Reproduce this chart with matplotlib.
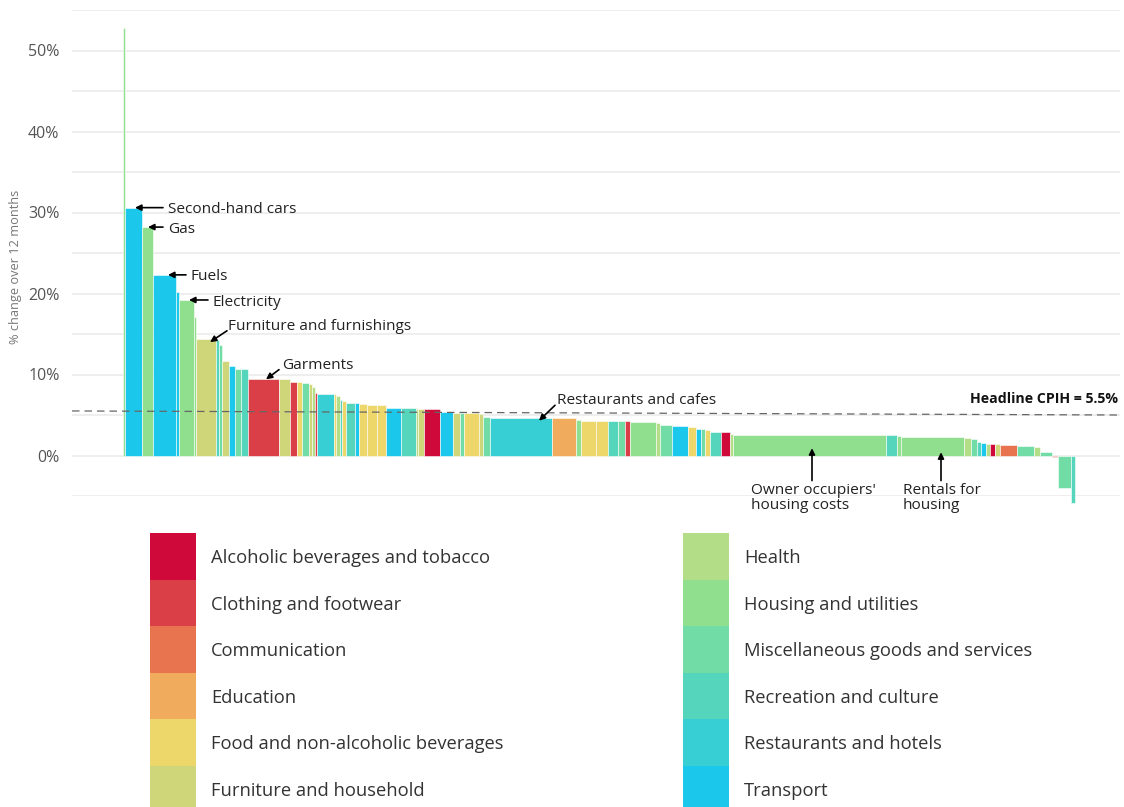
import matplotlib
matplotlib.use("Agg")
import matplotlib.pyplot as plt
from matplotlib.patches import Rectangle
import numpy as np

plt.rcParams['font.family'] = ['Open Sans', 'DejaVu Sans']

categories = ["Alcoholic beverages and tobacco", "Clothing and footwear", "Communication",
              "Education", "Food and non-alcoholic beverages", "Furniture and household",
              "Health", "Housing and utilities", "Miscellaneous goods and services",
              "Recreation and culture", "Restaurants and hotels", "Transport"]
colors = ["#cf0a3a", "#da3f47", "#e8744f", "#f0ac5c", "#edd66a", "#cfd67a",
          "#b3dd86", "#90df8f", "#72dca7", "#55d6bc", "#37cfd3", "#1bc8ec"]
codes = ["A", "C", "Co", "E", "F", "Fu", "H", "Ho", "M", "R", "Re", "T"]

# bar values (% change over 12 months), weights (bar widths) and category codes
values = [52.8, 30.6, 28.2, 22.3, 20.2, 19.2, 17.1, 14.4, 14.3, 13.6,
          11.7, 11.0, 10.7, 10.7, 9.5, 9.4, 9.1, 9.1, 8.9, 8.8,
          8.4, 7.7, 7.6, 7.6, 7.3, 6.9, 6.7, 6.5, 6.5, 6.3,
          6.2, 6.2, 5.9, 5.9, 5.8, 5.8, 5.8, 5.4, 5.3, 5.3,
          5.3, 5.1, 4.8, 4.6, 4.6, 4.4, 4.2, 4.2, 4.2, 4.2,
          4.2, 4.1, 4.0, 3.8, 3.6, 3.5, 3.3, 3.3, 3.2, 2.9,
          2.9, 2.6, 2.5, 2.5, 2.4, 2.3, 2.1, 2.0, 1.7, 1.6,
          1.4, 1.4, 1.4, 1.3, 1.2, 1.0, 0.4, -0.15, -4.0, -5.9]
weights = [1.5, 17.5, 11, 23, 2.5, 15, 2, 20, 3, 3,
           7, 6, 6.5, 6.5, 31, 11, 7, 5, 7, 3,
           3, 2.5, 17, 2, 4, 2, 4, 9, 4, 8,
           10, 9, 15, 15, 2, 6, 16, 13, 7, 4,
           15, 4, 6.5, 62.5, 24, 5, 15, 12, 10, 6.5,
           5, 26.5, 4, 11.5, 16, 8.5, 5, 4, 5, 11,
           9, 3, 152.5, 11, 4, 63, 7.5, 6, 4, 5,
           4, 5, 4.5, 17, 17.5, 6, 12, 6, 12.5, 4]
groups = ["Ho", "T", "Ho", "T", "T", "Ho", "Ho", "Fu", "R", "M",
          "Fu", "T", "M", "R", "C", "Fu", "C", "F", "M", "Fu",
          "H", "C", "Re", "F", "H", "R", "F", "R", "T", "F",
          "F", "F", "T", "R", "H", "Fu", "A", "T", "Fu", "M",
          "F", "Fu", "M", "Re", "E", "Ho", "F", "F", "R", "M",
          "C", "Ho", "H", "M", "T", "F", "T", "M", "F", "R",
          "A", "H", "Ho", "R", "Ho", "Ho", "H", "M", "R", "T",
          "H", "A", "Fu", "Co", "M", "H", "M", "C", "M", "R"]

headline = 5.5
yticks = [0, 10, 20, 30, 40, 50]

W, H = 1124, 807
fig = plt.figure(figsize=(W / 100, H / 100), dpi=100)
ax = fig.add_axes([72 / W, (H - 496) / H, 1048 / W, 486 / H])
ax.set_xlim(-51, 997)
ax.set_ylim(-5, 55)

for g in np.arange(-5, 56, 5):
    ax.axhline(g, color="#ebebeb", lw=1.2, zorder=0)

cmap = dict(zip(codes, colors))
lefts = np.concatenate([[0], np.cumsum(weights)[:-1]])
bars = ax.bar(lefts, values, width=weights, align="edge",
              color=[cmap[g] for g in groups], edgecolor="white", linewidth=0.4, zorder=2)
for b in bars:
    b.set_clip_on(False)

# headline line
ax.plot([-51, 995], [headline, headline - 0.5], color="#666666", lw=0.9,
        dashes=(6, 4), zorder=3)
ax.text(995, headline + 0.55, "Headline CPIH = 5.5%", ha="right", va="bottom",
        fontsize=10.2, fontweight="bold", color="#111111")

for s in ax.spines.values():
    s.set_visible(False)
ax.set_xticks([])
ax.set_yticks(yticks)
ax.set_yticklabels([f"{t}%" for t in yticks], fontsize=11.5, color="#555555")
ax.tick_params(axis="y", length=0, pad=9)
ax.set_ylabel("% change over 12 months", fontsize=9.2, color="#777777")
ax.yaxis.set_label_coords(-0.048, 0.471)

ap = dict(arrowstyle="-|>", color="black", lw=1.2, mutation_scale=9,
          shrinkA=0, shrinkB=0)
afs = 11.1
tc = "#222222"
dy = -0.25

def arrow(head, tail):
    ax.annotate("", xy=head, xytext=tail, arrowprops=ap, zorder=5)

arrow((12, values[1]), (40, values[1]))
ax.text(45, values[1] + dy, "Second-hand cars", va="center", fontsize=afs, color=tc)
arrow((25, values[2]), (40, values[2]))
ax.text(45, values[2] + dy, "Gas", va="center", fontsize=afs, color=tc)
arrow((45, values[3]), (63, values[3]))
ax.text(67, values[3] + dy, "Fuels", va="center", fontsize=afs, color=tc)
arrow((66, values[5]), (85, values[5]))
ax.text(89, values[5] + dy, "Electricity", va="center", fontsize=afs, color=tc)
arrow((87, 14.0), (104, 15.4))
ax.text(105, 16.2 + dy, "Furniture and furnishings", va="center", fontsize=afs, color=tc)
arrow((143, 9.4), (156, 10.6))
ax.text(159, 11.4 + dy, "Garments", va="center", fontsize=afs, color=tc)
arrow((416, 4.3), (432, 6.2))
ax.text(434, 7.1 + dy, "Restaurants and cafes", va="center", fontsize=afs, color=tc)
arrow((689, 0.9), (689, -3.1))
ax.text(628, -3.4, "Owner occupiers'\nhousing costs", va="top", fontsize=afs,
        color=tc, linespacing=1.0)
arrow((818, 0.4), (818, -3.1))
ax.text(780, -3.4, "Rentals for\nhousing", va="top", fontsize=afs,
        color=tc, linespacing=1.0)

# legend
row_h = 46.5
for i, (name, col) in enumerate(zip(categories, colors)):
    c = i // 6
    r = i % 6
    sx = 150 if c == 0 else 683
    top = 533 + r * row_h
    fig.add_artist(Rectangle((sx / W, 1 - (top + row_h) / H), 46 / W, row_h / H,
                             transform=fig.transFigure, facecolor=col,
                             edgecolor="none"))
    fig.text((sx + 61) / W, 1 - (top + row_h / 2 + 2) / H, name, va="center",
             ha="left", fontsize=13.2, color="#333333")

fig.savefig("out.png", dpi=100)
